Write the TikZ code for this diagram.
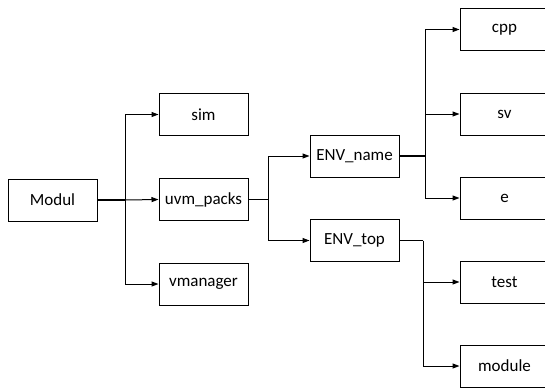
\documentclass[tikz,border=0pt]{standalone}
\usepackage{fontspec}
\setmainfont{Carlito}
\usetikzlibrary{arrows.meta}
\begin{document}
\begin{tikzpicture}[x=1pt,y=-1pt,
  box/.style={draw,line width=1pt,minimum width=89pt,minimum height=42pt,inner sep=0pt,font=\fontsize{17}{20}\selectfont},
  conn/.style={line width=1pt},
  arr/.style={line width=1pt,-{Triangle[length=7pt,width=5pt]}}]
\useasboundingbox (0,0) rectangle (545,388);
\clip (0,0) rectangle (545,388);
\node[box] (modul) at (52.5,200) {Modul};
\node[box] (sim) at (203.5,114.5) {sim};
\node[box] (uvm) at (203.5,199.5) {uvm\_packs};
\node[box] (vman) at (203.5,284) {vmanager};
\node[box] (envn) at (354.5,156) {ENV\_name};
\node[box] (envt) at (354.5,240.5) {ENV\_top};
\node[box] (cpp) at (504.5,29.5) {cpp};
\node[box] (sv) at (504.5,114) {sv};
\node[box] (e) at (504.5,198) {e};
\node[box] (test) at (504.5,282) {test};
\node[box] (module) at (504.5,366) {module};
\coordinate (b1) at (125,200);
\coordinate (b2) at (268,199.5);
\coordinate (b3) at (425,156);
\coordinate (b4) at (423,240.5);
\draw[conn,line width=1.8pt] (modul.east) -- (b1);
\draw[arr] (b1) |- (sim.west);
\draw[arr] (b1) -- (uvm.west);
\draw[arr] (b1) |- (vman.west);
\draw[conn] (uvm.east) -- (b2);
\draw[arr] (b2) |- (envn.west);
\draw[arr] (b2) |- (envt.west);
\draw[conn,line width=1.8pt] (envn.east) -- (b3);
\draw[arr] (b3) |- (cpp.west);
\draw[arr] (b3) |- (sv.west);
\draw[arr] (b3) |- (e.west);
\draw[conn] (envt.east) -- (b4);
\draw[arr] (b4) |- (test.west);
\draw[arr] (b4) |- (module.west);
\end{tikzpicture}
\end{document}
